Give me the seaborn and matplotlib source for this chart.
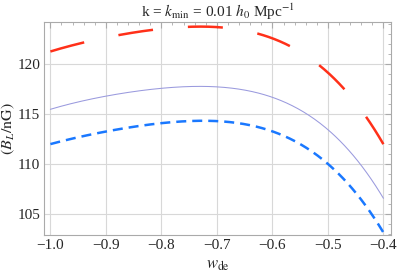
import numpy as np
import pandas as pd
import matplotlib
matplotlib.use("Agg")
import matplotlib.pyplot as plt
import seaborn as sns
from matplotlib.ticker import MultipleLocator

# values
w_red = [-1.0, -0.937, -0.878, -0.813, -0.729, -0.69, -0.63, -0.569, -0.518, -0.47, -0.434, -0.4]
b_red = [121.3, 122.2, 122.9, 123.5, 123.8, 123.7, 123.1, 121.8, 120.0, 117.6, 114.9, 112.0]

w_mid = [-1.0, -0.9, -0.8, -0.737, -0.7, -0.6, -0.586, -0.537, -0.5, -0.434, -0.4]
b_mid = [115.5, 116.8, 117.6, 117.8, 117.7, 116.9, 116.4, 114.8, 113.3, 109.8, 106.4]

w_blue = [-1.0, -0.9, -0.8, -0.73, -0.7, -0.6, -0.574, -0.5, -0.461, -0.424, -0.4]
b_blue = [112.0, 113.3, 114.1, 114.3, 114.3, 113.3, 112.8, 110.0, 107.7, 105.4, 103.1]

xticks = [-1.0, -0.9, -0.8, -0.7, -0.6, -0.5, -0.4]
yticks = [105, 110, 115, 120]


def smooth(w, b):
    xs = np.linspace(w[0], w[-1], 300)
    c = np.polyfit(w, b, 4)
    return xs, np.polyval(c, xs)


sns.set_style("white")
plt.rcParams["font.family"] = ["Liberation Serif", "DejaVu Serif"]
plt.rcParams["mathtext.fontset"] = "stix"

fig, ax = plt.subplots(figsize=(3.99, 2.73), dpi=100)
fig.subplots_adjust(left=0.111, right=0.979, top=0.918, bottom=0.139)

xr, yr = smooth(w_red, b_red)
xm, ym = smooth(w_mid, b_mid)
xb, yb = smooth(w_blue, b_blue)

sns.lineplot(x=xr, y=yr, ax=ax, color="#ff3019", lw=1.8)
ax.lines[-1].set_dashes([14, 14])
sns.lineplot(x=xm, y=ym, ax=ax, color="#9a9ade", lw=0.75)
sns.lineplot(x=xb, y=yb, ax=ax, color="#1a78ff", lw=1.8)
ax.lines[-1].set_dashes([4, 2.4])

ax.set_xlim(-1.011, -0.387)
ax.set_ylim(102.9, 124.2)
ax.set_xticks(xticks)
ax.set_xticklabels(["\u2212%.1f" % abs(v) for v in xticks])
ax.set_yticks(yticks)
ax.xaxis.set_minor_locator(MultipleLocator(0.02))
ax.yaxis.set_minor_locator(MultipleLocator(1))
ax.grid(True, which="major", color="#d8d8d8", lw=0.8)
ax.set_axisbelow(True)
ax.tick_params(which="both", direction="in", top=True, right=True, color="#aaaaaa",
               labelsize=11, pad=3)
ax.tick_params(which="major", length=4)
ax.tick_params(which="minor", length=2)
for s in ax.spines.values():
    s.set_color("#aaaaaa")
    s.set_linewidth(0.8)

ax.set_xlabel(r"$w_{\rm de}$", fontsize=12)
ax.xaxis.set_label_coords(0.5, -0.105)
ax.set_ylabel(r"$(B_L/{\rm nG})$", fontsize=11.5)
ax.yaxis.set_label_coords(-0.078, 0.5)
ax.set_title(r"k = $k_{\rm min}$ = 0.01 $h_0$ Mpc$^{-1}$", fontsize=11, pad=4)

fig.savefig("out.png", dpi=100)
